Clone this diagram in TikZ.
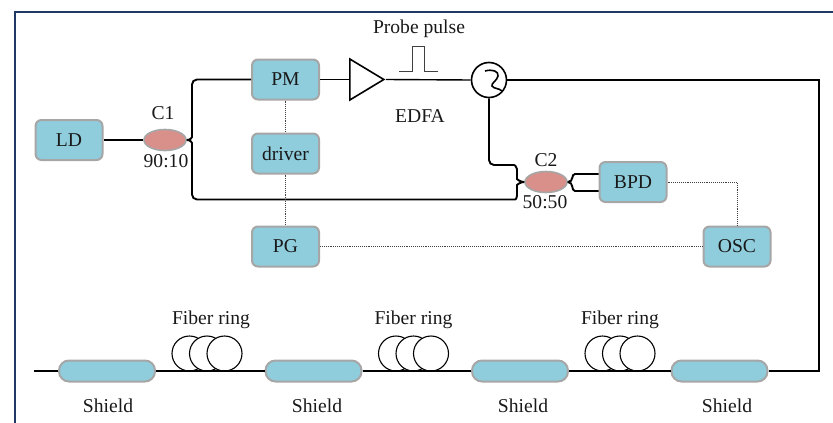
\documentclass[tikz,border=0pt]{standalone}
\usepackage{fontspec}
\setmainfont{Liberation Serif}
\usepackage{tikz}
\usetikzlibrary{arrows, shapes.geometric}
\definecolor{boxblue}{HTML}{8FCDDD}
\definecolor{boxgrey}{HTML}{A6A6A6}
\definecolor{couplerred}{HTML}{D98F8A}
\definecolor{framenavy}{HTML}{1F3864}

\begin{document}
\begin{tikzpicture}[x=1pt,y=-1pt,node distance=74pt,semithick,
		every node/.style={font=\fontsize{19.6}{22}\selectfont,text=black!90},
		unit/.style={draw=boxgrey,fill=boxblue,line width=2pt,rounded corners=6pt,minimum width=67pt,minimum height=40pt,inner sep=0pt},
		shield/.style={draw=boxgrey,fill=boxblue,line width=2pt,rounded corners=10pt,minimum width=96pt,minimum height=21pt,inner sep=0pt},
		coupler/.style={ellipse,draw=boxgrey,fill=couplerred,line width=1.6pt,minimum width=42pt,minimum height=21pt,inner sep=0pt},
		amp/.style={isosceles triangle,isosceles triangle stretches,draw=black,line width=1.6pt,fill=white,minimum width=41pt,minimum height=34pt,inner sep=0pt},
		circulator/.style={circle,draw=black,line width=1.6pt,fill=white,minimum size=35pt,inner sep=0pt},
		ring/.style={circle,draw=black,line width=1.1pt,fill=white,minimum size=35pt,inner sep=0pt},
		fiber/.style={draw=black,line width=1.9pt,rounded corners=5pt},
		signal/.style={draw=black!75,line width=0.9pt,densely dotted}]
	\useasboundingbox (0,0) rectangle (833,423);
	\draw[framenavy,line width=2.4pt] (833,12) -- (15,12) -- (15,423);

	\node[unit] (ld) at (69,140) {LD};
	\node[coupler] (c1) at (165,140) {};
	\node[unit] (pm) at (285.5,79.5) {PM};
	\node[unit, below of=pm] (driver) {driver};
	\node[unit, below of=driver, node distance=93pt] (pg) {PG};
	\node[amp,anchor=lower side] (edfa) at (349,79.5) {};
	\node[circulator] (circ) at (489,80) {};
	\node[coupler] (c2) at (546,182) {};
	\node[unit] (bpd) at (633,182) {BPD};
	\node[unit] (osc) at (737,246.5) {OSC};

	\node (c1top) at (163,113) {C1};
	\node (c1ratio) at (166,161) {90:10};
	\node (c2top) at (546,160) {C2};
	\node (c2ratio) at (545,202) {50:50};
	\node (probe) at (419,29) {Probe pulse};
	\node (amptext) at (420,116) {EDFA};

	% pulse shape
	\draw[black!75,line width=1pt] (399,71.5) -- (412,71.5) -- (412,46) -- (424,46) -- (424,71.5) -- (438,71.5);

	% fibers
	\draw[fiber] (ld) -- (c1);
	\draw[fiber] (c1.east) .. controls (190,140) and (192,138) .. (192,132) |- (pm.west);
	\draw[fiber] (c1.east) .. controls (190,140) and (192,142) .. (192,148) |- (510,199.5) .. controls (517,199.5) and (517,194) .. (517,190) .. controls (517,185) and (520,182) .. (c2.west);
	\draw[fiber] (circ.south) |- (509,165) .. controls (516,165) and (517,170) .. (517,174) .. controls (517,179) and (520,182) .. (c2.west);
	\draw[fiber] (c2.east) .. controls (574,182) and (571,174) .. (580,174) -- (bpd.west |- 0,174);
	\draw[fiber] (c2.east) .. controls (574,182) and (571,191) .. (580,191) -- (bpd.west |- 0,191);
	\draw[fiber] (pm) -- (edfa.lower side);
	\draw[fiber,line width=1.4pt] (edfa.apex) -- (circ.west);

	% circulator arrow
	\draw[black,line width=1.6pt] (485,71) .. controls (492,69) and (499,71) .. (498,76) .. controls (497,81) and (491,83) .. (492,86) .. controls (494,89) and (499,88) .. (502,91);

	% control lines
	\draw[signal] (pm) -- (driver);
	\draw[signal] (driver) -- (pg);
	\draw[signal] (pg) -- (osc);
	\draw[signal] (bpd) -| (osc);

	% fiber rings
	\foreach \x/\n/\t in {207/a/211,413.5/b/413.5,620/c/620} {
		\node[ring] (ring\n1) at (\x-17.5,353.5) {};
		\node[ring] (ring\n2) at (\x,353.5) {};
		\node[ring] (ring\n3) at (\x+17.5,353.5) {};
		\node (ringtext\n) at (\t,320) {Fiber ring};
	}

	\node[shield] (shielda) at (107,371) {};
	\node[shield] (shieldb) at (313.5,371) {};
	\node[shield] (shieldc) at (520,371) {};
	\node[shield] (shieldd) at (719.5,371) {};
	\node (shieldtexta) at (108,406) {Shield};
	\node (shieldtextb) at (317,406) {Shield};
	\node (shieldtextc) at (523,406) {Shield};
	\node (shieldtextd) at (727,406) {Shield};

	\coordinate (start) at (34,371);
	\coordinate (turn) at (819,80);
	\draw[fiber,rounded corners=0pt] (start) -- (shielda) -- (shieldb) -- (shieldc) -- (shieldd) -| (turn) -- (circ.east);
\end{tikzpicture}
\end{document}
